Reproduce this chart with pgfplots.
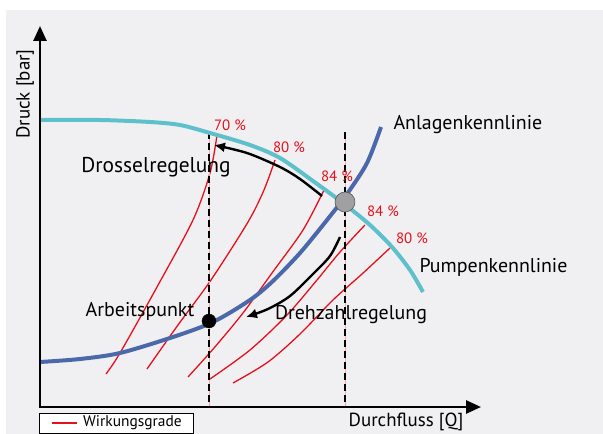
\documentclass[border=0pt]{standalone}
\usepackage{pgfplots}
\pgfplotsset{compat=1.18}
\usepackage{fontspec}
\setmainfont{PT Sans}
\usetikzlibrary{arrows.meta}
\definecolor{bgGray}{RGB}{240,240,242}
\definecolor{pumpCyan}{RGB}{94,192,202}
\definecolor{sysBlue}{RGB}{74,104,170}
\definecolor{effRed}{RGB}{230,16,28}
\definecolor{dotGray}{RGB}{160,160,160}

\begin{document}
\begin{tikzpicture}
\begin{axis}[
    at={(0,0)}, anchor=south west,
    width=603bp, height=434bp, scale only axis,
    xmin=0, xmax=603, ymin=0, ymax=434, y dir=reverse,
    hide axis, clip=false,
]
% background panel
\fill[bgGray] (axis cs:6,10) rectangle (axis cs:603,434);

% efficiency curves (Wirkungsgrade)
\addplot[effRed, line width=1.3pt, smooth] coordinates {
    (217,135)(210,173)(193,220)(157,287)(120,353)(106,374)
};
\addplot[effRed, line width=1.3pt, smooth] coordinates {
    (275,160)(264,190)(248,222)(211,280)(178,325)(147,369)
};
\addplot[effRed, line width=1.3pt, smooth] coordinates {
    (324,190)(303,230)(272,273)(243,313)(214,348)(188,377)
};
\addplot[effRed, line width=1.3pt, smooth] coordinates {
    (365,225)(340,252)(317,280)(287,315)(250,350)(210,379)
};
\addplot[effRed, line width=1.3pt, smooth] coordinates {
    (390,248)(362,274)(333,300)(300,334)(268,362)(233,383)
};

% operating lines
\addplot[red!35!white, line width=0.4pt] coordinates {(209,132)(209,407)};
\addplot[black, line width=1.8pt, dash pattern=on 7pt off 4pt] coordinates {(209,132)(209,407)};
\addplot[red!35!white, line width=0.4pt] coordinates {(345,132)(345,407)};
\addplot[black, line width=1.8pt, dash pattern=on 7pt off 4pt] coordinates {(345,132)(345,407)};

% pump curve
\addplot[pumpCyan, line width=4pt, smooth] coordinates {
    (40,120)(100,120)(150,122)(180,125)(210,133)(250,145)(280,158)(313,181)(343,203)(370,225)(392,247)(410,270)(423,292)
};
% system curve
\addplot[sysBlue, line width=4pt, smooth] coordinates {
    (40,362)(80,359)(120,353)(173,337)(213,322)(250,300)(273,281)(300,253)(327,220)(347,194)(367,163)(381,127)
};

% control arrows
\addplot[black, line width=2.4pt, smooth, -{Latex[length=11pt,width=10pt]}] coordinates {
    (322,196)(300,179)(280,167)(247,153)(214,145)
};
\addplot[black, line width=2.4pt, smooth, -{Latex[length=11pt,width=10pt]}] coordinates {
    (340,237)(330,256)(313,274)(290,296)(268,309)(246,317)
};

% operating points
\addplot[only marks, mark=*, mark size=7pt, mark options={fill=black, draw=black}] coordinates {(209,321)};
\addplot[only marks, mark=*, mark size=10pt, mark options={fill=dotGray, draw=gray!70!black, line width=0.6pt}] coordinates {(345,202)};

% axes
\draw[black, line width=2.6pt, -{Triangle[length=15pt,width=13pt]}] (axis cs:40,408) -- (axis cs:40,26);
\draw[black, line width=2.6pt, -{Triangle[length=15pt,width=13pt]}] (axis cs:39,407) -- (axis cs:481,407);

% legend box
\fill[white] (axis cs:39,413) rectangle (axis cs:193,433);
\draw[black, line width=0.9pt] (axis cs:39,413) rectangle (axis cs:193,433);
\draw[effRed, line width=1.8pt] (axis cs:52,423) -- (axis cs:77,423);
\node[anchor=west, inner sep=0pt, font=\fontsize{15.5}{16}\selectfont] at (axis cs:83,423) {Wirkungsgrade};

% texts
\node[font=\fontsize{19}{20}\selectfont] at (axis cs:406,422) {Durchfluss [Q]};
\node[font=\fontsize{21.5}{22}\selectfont] at (axis cs:156,167) {Drosselregelung};
\node[font=\fontsize{20}{22}\selectfont, anchor=west] at (axis cs:390,125) {Anlagenkennlinie};
\node[font=\fontsize{20}{22}\selectfont, anchor=west] at (axis cs:416,267) {Pumpenkennlinie};
\node[font=\fontsize{20}{22}\selectfont] at (axis cs:140,311) {Arbeitspunkt};
\node[font=\fontsize{20}{22}\selectfont] at (axis cs:351,315) {Drehzahlregelung};

\begin{scope}[effRed, font=\fontsize{15}{16}\selectfont]
\node at (axis cs:230,125) {70 \%};
\node at (axis cs:289,147) {80 \%};
\node at (axis cs:337,176) {84 \%};
\node at (axis cs:383,211) {84 \%};
\node at (axis cs:412,238) {80 \%};
\end{scope}
\end{axis}
\node[rotate=90, font=\fontsize{19}{20}\selectfont] at (25bp,340bp) {Druck [bar]};
\pgfresetboundingbox
\useasboundingbox (0,0) rectangle (603bp,434bp);
\end{tikzpicture}
\end{document}
